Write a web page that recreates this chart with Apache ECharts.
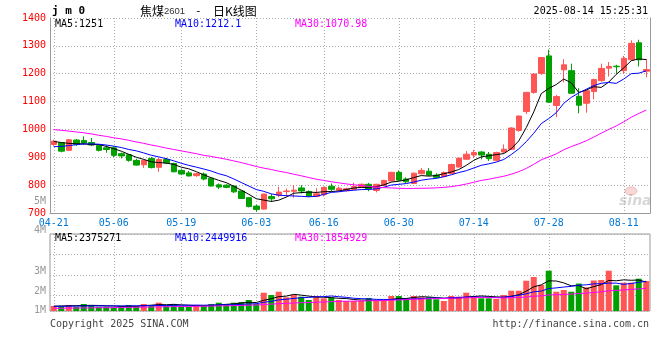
<!DOCTYPE html>
<html><head><meta charset="utf-8">
<script src="https://cdn.jsdelivr.net/npm/echarts@6/dist/echarts.min.js"></script>
<style>html,body{margin:0;padding:0;background:#fff}#c{width:660px;height:360px}</style>
</head><body><div id="c"></div>
<script>
// ---------- data ----------
const dates = ['04-21','04-22','04-23','04-24','04-25','04-28','04-29','04-30',
'05-06','05-07','05-08','05-09','05-12','05-13','05-14','05-15','05-16','05-19','05-20','05-21','05-22','05-23','05-26','05-27','05-28','05-29','05-30',
'06-03','06-04','06-05','06-06','06-09','06-10','06-11','06-12','06-13','06-16','06-17','06-18','06-19','06-20','06-23','06-24','06-25','06-26','06-27','06-30',
'07-01','07-02','07-03','07-04','07-07','07-08','07-09','07-10','07-11','07-14','07-15','07-16','07-17','07-18','07-21','07-22','07-23','07-24','07-25','07-28','07-29','07-30','07-31',
'08-01','08-04','08-05','08-06','08-07','08-08','08-11','08-12','08-13','08-14'];
const labelDates = ['04-21','05-06','05-19','06-03','06-16','06-30','07-14','07-28','08-11'];
const priceTicks = [700,800,900,1000,1100,1200,1300,1400];
const volTickLabels = ['5M','4M','3M','2M','1M'];
const opens = [946,952,925,962,960,953,942,934,934,913,
 909,889,873,896,864,892,878,853,844,834,
 840,825,801,800,797,779,755,725,714,759,
 764,777,778,790,777,760,766,796,782,780,
 785,792,803,781,799,815,846,822,806,841,
 850,836,831,842,865,893,908,919,911,889,
 919,929,996,1064,1133,1201,1264,1086,1214,1211,
 1119,1094,1136,1175,1220,1227,1211,1250,1311,1209];
const closes = [958,922,963,947,951,944,925,928,907,905,
 889,872,889,863,892,880,848,840,833,841,
 822,797,793,792,776,752,723,713,768,751,
 775,779,782,779,760,769,792,785,789,787,
 795,803,786,803,817,846,818,812,843,853,
 836,828,845,874,897,911,917,908,895,917,
 929,1005,1048,1133,1199,1258,1098,1118,1232,1130,
 1087,1139,1179,1219,1226,1225,1255,1309,1250,1215];
const lows = [940,918,922,941,944,940,921,916,901,896,
 884,870,862,860,848,876,846,836,831,830,
 817,795,786,789,772,750,720,704,712,740,
 757,759,755,770,757,757,759,779,778,777,
 783,790,778,774,797,813,815,807,804,839,
 833,824,828,840,863,891,897,893,887,886,
 913,926,992,1055,1128,1196,1095,1044,1169,1128,
 1058,1060,1108,1172,1190,1200,1200,1248,1226,1187];
const highs = [963,954,966,966,975,969,944,943,940,917,
 911,895,891,901,898,898,880,857,851,844,
 845,826,806,803,799,780,756,729,769,768,
 794,788,800,800,781,789,794,806,795,791,
 809,806,808,805,819,848,853,828,845,861,
 861,843,849,877,899,922,927,922,919,920,
 946,1008,1050,1135,1201,1260,1286,1124,1252,1236,
 1148,1142,1182,1236,1242,1232,1264,1320,1322,1253];
const ma5 = [957,953,950,948.5,948.2,945.4,946,939,931,921.8,
 910.8,900.2,892.4,883.6,881,879.2,874.4,864.6,858.6,848.4,
 836.8,826.6,817.2,809,796,782,767.2,751.2,746.4,741.4,
 746,757.2,771,773.2,775,773.8,776.4,777,779,784.4,
 789.6,791.8,792,794.8,800.8,811,814,819.2,827.2,834.4,
 832.4,834.4,841,847.2,856,871,888.8,901.4,905.6,909.6,
 913.2,930.8,958.8,1006.4,1062.8,1128.6,1147.2,1161.2,1181,1167.2,
 1133,1141.2,1153.4,1150.8,1170,1197.6,1220.8,1246.8,1253,1250.8];
const ma10 = [938,939,942,945,948,948,947,944,940,935,
 928.1,923.1,915.7,907.3,901.4,895,887.3,878.5,871.1,864.7,
 858,850.5,840.9,833.8,822.2,809.4,796.9,784.2,777.7,768.7,
 764,762.2,761.1,759.8,758.2,759.9,766.8,774,776.1,779.7,
 781.7,784.1,784.5,786.9,792.6,800.3,802.9,805.6,811,817.6,
 821.7,824.2,830.1,837.2,845.2,851.7,861.6,871.2,876.4,882.8,
 892.1,909.8,930.1,956,986.2,1020.9,1039,1060,1093.7,1115,
 1130.8,1144.2,1157.3,1165.9,1168.6,1165.3,1181,1200.1,1201.9,1210.4];
const ma30 = [999,997,994,991,988,984,979,975,970,966,
 961,955,950,944,939,933,928,923,918,913,
 907,903,898,893,887,881,874,867,861,856.1,
 850,845.3,839.2,833.6,827.3,821.4,817,812.2,808.3,804.4,
 801.2,798.9,795.5,793.5,791,789.9,788.9,787.9,788.3,788.7,
 789.1,790.2,791.9,794.6,798.7,804,810.4,816.9,821.2,826.7,
 831.8,839.4,848.2,860,874.7,891,901.2,912.3,927,938.5,
 948.2,959.4,972.5,986.4,1000,1012.6,1027.2,1043.8,1057.3,1069.4];
const volumes = [410000,410000,492000,352000,574000,492000,352000,352000,303000,410000,
 492000,410000,574000,492000,680000,410000,574000,352000,352000,492000,
 410000,574000,680000,574000,680000,738000,902000,574000,1500000,1312000,
 1582000,1123000,1312000,1172000,902000,1230000,1041000,1123000,902000,820000,
 820000,820000,1066000,820000,820000,1230000,1230000,1041000,1230000,1123000,
 1123000,959000,820000,1230000,1172000,1500000,1230000,1041000,1041000,984000,
 1312000,1664000,1664000,2484000,2787000,2131000,3303000,1582000,1721000,1582000,
 2250000,1943000,2500000,2541000,3300000,2107000,2320000,2320000,2648000,2459000];
const vma5 = [400000,410000,430000,440000,448000,464000,452000,424000,415000,382000,
 382000,393000,438000,476000,530000,513000,546000,502000,474000,436000,
 436000,436000,502000,546000,584000,649000,715000,694000,879000,1005000,
 1174000,1218000,1366000,1300000,1218000,1148000,1131000,1094000,1040000,1023000,
 941000,897000,886000,869000,869000,951000,1033000,1028000,1110000,1171000,
 1149000,1095000,1051000,1051000,1061000,1136000,1190000,1235000,1197000,1159000,
 1122000,1208000,1333000,1622000,1982000,2146000,2474000,2457000,2305000,2064000,
 2088000,1816000,1999000,2163000,2507000,2478000,2554000,2518000,2539000,2371000];
const vma10 = [380000,386000,397000,402000,408000,417000,421000,418000,420000,415000,
 423000,423000,431000,445000,456000,448000,470000,470000,475000,483000,
 475000,491000,502000,510000,510000,543000,575000,598000,712000,794000,
 912000,967000,1030000,1090000,1112000,1161000,1175000,1230000,1170000,1121000,
 1045000,1014000,990000,954000,946000,946000,965000,957000,990000,1020000,
 1050000,1064000,1040000,1081000,1116000,1143000,1143000,1143000,1124000,1110000,
 1129000,1199000,1284000,1409000,1571000,1634000,1841000,1895000,1963000,2023000,
 2117000,2145000,2228000,2234000,2285000,2283000,2185000,2258000,2351000,2439000];
const vma30 = [220000,226000,238000,241000,252000,259000,268000,272000,279000,291000,
 298000,307000,318000,326000,338000,346000,357000,365000,374000,385000,
 392000,405000,418000,427000,441000,456000,476000,492000,527000,564000,
 603000,627000,654000,681000,692000,717000,740000,766000,786000,799000,
 810000,824000,840000,851000,856000,883000,905000,928000,957000,978000,
 1002000,1015000,1020000,1042000,1058000,1083000,1094000,1110000,1095000,1084000,
 1075000,1093000,1104000,1148000,1211000,1241000,1316000,1332000,1359000,1384000,
 1432000,1469000,1517000,1575000,1657000,1687000,1723000,1765000,1813000,1857000];
const priceLegend = ['MA5:1251','MA10:1212.1','MA30:1070.98'];
const volLegend = ['MA5:2375271','MA10:2449916','MA30:1854929'];
const titleCode = 'j m 0';
const titleParts = ['焦煤','2601','-','日K线图'];
const timeStamp = '2025-08-14 15:25:31';
const copyright = 'Copyright 2025 SINA.COM';
const siteUrl = 'http://finance.sina.com.cn';

// ---------- styles / layout ----------
const RED = '#ff5555', GREEN = '#00a000';
const MA_COLORS = ['#000000', '#0000ff', '#ff00ff'];
const MONO = "'DejaVu Sans Mono', 'Liberation Mono', monospace";
const CJK = "'Noto Sans CJK SC', sans-serif";
const GRID_LINE = { color: '#aaaaaa', type: [1, 2], width: 1 };
const AXIS_LINE = { color: '#999999', width: 1 };
const showLabel = (i, v) => labelDates.indexOf(v) >= 0;

const chart = echarts.init(document.getElementById('c'), null, { renderer: 'canvas' });

const candleData = opens.map((o, i) => [o, closes[i], lows[i], highs[i]]);
const volData = volumes.map((v, i) => ({
  value: v,
  itemStyle: { color: closes[i] >= opens[i] ? RED : GREEN }
}));

function txt(text, x, y, color, opts) {
  return {
    type: 'text', x: x, y: y, silent: true, z: 100,
    style: Object.assign({
      text: text, fill: color, fontFamily: MONO, fontSize: 10,
      align: 'left', verticalAlign: 'middle'
    }, opts || {})
  };
}

const volLabelY = [201, 230.5, 271, 291, 310];
const legendX = [55, 175, 295];

const graphics = [
  txt(titleCode, 52, 11, '#000', { fontWeight: 'bold', fontSize: 11 }),
  txt(titleParts[0], 140, 11, '#000', { fontFamily: CJK, fontSize: 12 }),
  txt(titleParts[1], 164, 11.5, '#333', { fontFamily: "'Liberation Sans', sans-serif", fontSize: 9.5 }),
  txt(titleParts[2], 195, 11, '#000', { fontSize: 11 }),
  txt(titleParts[3], 213, 11, '#000', { fontFamily: CJK, fontSize: 12 }),
  txt(timeStamp, 648, 11.5, '#000', { align: 'right' }),
  txt(copyright, 50, 324, '#444'),
  txt(siteUrl, 649, 324, '#444', { align: 'right' }),
  // sina watermark
  { type: 'ellipse', silent: true, z: 1, shape: { cx: 631, cy: 191, rx: 6, ry: 4 },
    style: { fill: 'rgba(235,140,140,0.35)', stroke: 'rgba(220,120,120,0.4)', lineWidth: 1 } },
  txt('sina', 619, 201, 'rgba(140,140,140,0.35)', { fontFamily: "'DejaVu Sans', sans-serif", fontSize: 14, fontWeight: 'bold', fontStyle: 'italic' })
];
priceLegend.forEach((t, k) => graphics.push(txt(t, legendX[k], 24, MA_COLORS[k])));
volLegend.forEach((t, k) => graphics.push(txt(t, legendX[k], 238.5, MA_COLORS[k])));
volTickLabels.forEach((t, k) => graphics.push(txt(t, 46, volLabelY[k], '#999', { align: 'right' })));

const lineSeries = (name, data, color, xi, yi) => ({
  name: name, type: 'line', data: data, xAxisIndex: xi, yAxisIndex: yi,
  showSymbol: false, symbol: 'none', smooth: false,
  lineStyle: { color: color, width: 1 }, itemStyle: { color: color },
  z: 5, silent: true
});

const option = {
  animation: false,
  backgroundColor: '#fff',
  grid: [
    { left: 50, width: 600, top: 18, height: 195, show: false },
    { left: 50, width: 600, top: 234, height: 77, show: true, borderColor: '#999', borderWidth: 1 }
  ],
  xAxis: [
    { type: 'category', gridIndex: 0, data: dates, boundaryGap: true,
      axisLine: { show: true, lineStyle: AXIS_LINE },
      axisTick: { show: false },
      axisLabel: { interval: showLabel, color: '#0078d7', fontFamily: MONO, fontSize: 10, margin: 5 },
      splitLine: { show: true, interval: showLabel, alignWithLabel: true, lineStyle: GRID_LINE } },
    { type: 'category', gridIndex: 1, data: dates, boundaryGap: true,
      axisLine: { show: false }, axisTick: { show: false }, axisLabel: { show: false },
      splitLine: { show: true, interval: showLabel, alignWithLabel: true, lineStyle: GRID_LINE } }
  ],
  yAxis: [
    { type: 'value', gridIndex: 0, min: priceTicks[0], max: priceTicks[priceTicks.length - 1],
      interval: priceTicks[1] - priceTicks[0],
      axisLine: { show: true, lineStyle: AXIS_LINE }, axisTick: { show: false },
      axisLabel: { color: '#ff0000', fontFamily: MONO, fontSize: 10, margin: 4, formatter: v => String(v) },
      splitLine: { show: true, lineStyle: GRID_LINE } },
    { type: 'value', gridIndex: 0, position: 'right', min: priceTicks[0], max: priceTicks[priceTicks.length - 1],
      axisLine: { show: true, lineStyle: AXIS_LINE }, axisTick: { show: false },
      axisLabel: { show: false }, splitLine: { show: false } },
    { type: 'value', gridIndex: 1, min: 0, max: 6311000,
      axisLine: { show: false }, axisTick: { show: false }, axisLabel: { show: false },
      splitLine: { show: false } },
    { type: 'value', gridIndex: 1, inverse: true, min: 0, max: 3.775, interval: 1,
      axisLine: { show: false }, axisTick: { show: false }, axisLabel: { show: false },
      splitLine: { show: true, lineStyle: GRID_LINE } }
  ],
  series: [
    { name: 'K', type: 'candlestick', xAxisIndex: 0, yAxisIndex: 0, data: candleData,
      barWidth: 6, z: 3, silent: true,
      itemStyle: { color: RED, color0: GREEN, borderColor: RED, borderColor0: GREEN, borderWidth: 1 } },
    lineSeries('MA5', ma5, MA_COLORS[0], 0, 0),
    lineSeries('MA10', ma10, MA_COLORS[1], 0, 0),
    lineSeries('MA30', ma30, MA_COLORS[2], 0, 0),
    { name: 'VOL', type: 'bar', xAxisIndex: 1, yAxisIndex: 2, data: volData, barWidth: 6, z: 3, silent: true },
    lineSeries('VMA5', vma5, MA_COLORS[0], 1, 2),
    lineSeries('VMA10', vma10, MA_COLORS[1], 1, 2),
    lineSeries('VMA30', vma30, MA_COLORS[2], 1, 2)
  ],
  graphic: graphics
};
chart.setOption(option);
</script>
</body></html>
